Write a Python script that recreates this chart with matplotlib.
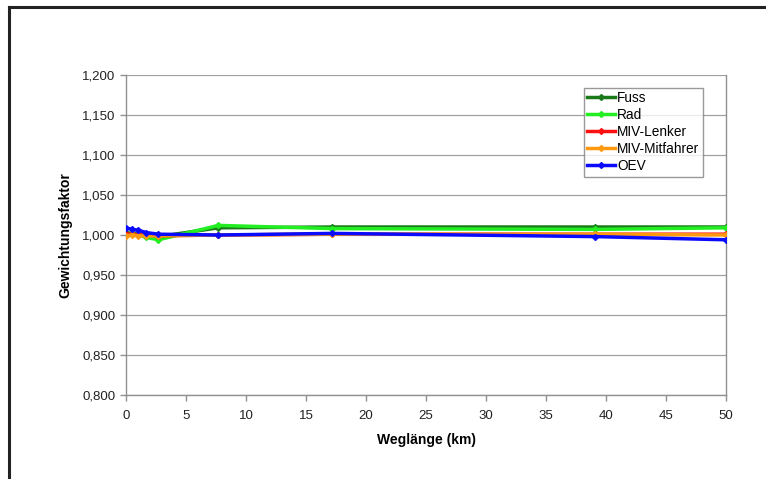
import matplotlib
matplotlib.use("Agg")
import matplotlib.pyplot as plt
from matplotlib.lines import Line2D
from matplotlib.ticker import FuncFormatter, MultipleLocator

plt.rcParams["font.family"] = ["Liberation Sans", "DejaVu Sans"]

# distance classes (km)
x_km = [0, 0.5, 1, 1.7, 2.7, 7.7, 17.2, 39.1, 50]

fuss = [1.003, 1.002, 1.001, 0.999, 0.998, 1.009, 1.010, 1.010, 1.010]
rad = [1.000, 1.001, 1.000, 0.997, 0.994, 1.012, 1.008, 1.007, 1.009]
miv_lenker = [1.001, 1.001, 1.000, 1.000, 0.999, 1.000, 1.001, 1.001, 1.001]
miv_mitfahrer = [0.999, 1.000, 0.999, 0.999, 0.999, 1.000, 1.001, 1.001, 1.000]
oev = [1.009, 1.007, 1.006, 1.003, 1.001, 1.000, 1.002, 0.998, 0.994]

series_names = ["Fuss", "Rad", "MIV-Lenker", "MIV-Mitfahrer", "OEV"]
series_values = [fuss, rad, miv_lenker, miv_mitfahrer, oev]
colors = ["#1a7a1a", "#22ee22", "#ff1010", "#ff9a10", "#0a0aff"]

fig = plt.figure(figsize=(7.66, 4.79), dpi=100)
ax = fig.add_axes([0.1645, 0.1754, 0.7835, 0.668])

for name, vals, col in zip(series_names, series_values, colors):
    ax.plot(x_km, vals, color=col, lw=2.5, marker="D", ms=3.0, label=name, zorder=3)

ax.set_xlim(0, 50)
ax.set_ylim(0.8, 1.2)
ax.xaxis.set_major_locator(MultipleLocator(5))
ax.yaxis.set_major_locator(MultipleLocator(0.05))
ax.yaxis.set_major_formatter(FuncFormatter(lambda v, _: f"{v:.3f}".replace(".", ",")))
ax.grid(axis="y", color="#a0a0a0", lw=0.9)
ax.set_axisbelow(True)
ax.spines["top"].set_visible(False)
for side in ["left", "bottom", "right"]:
    ax.spines[side].set_color("#909090")
    ax.spines[side].set_linewidth(1.0)
ax.tick_params(colors="#909090", labelcolor="#222222", labelsize=9.5, length=4, width=1.0)
ax.tick_params(axis="x", pad=7)

ax.set_xlabel("Weglänge (km)", fontsize=10, fontweight="bold", labelpad=8)
ax.set_ylabel("Gewichtungsfaktor", fontsize=10, fontweight="bold", labelpad=7)

leg = ax.legend(loc="upper left", bbox_to_anchor=(0.763, 0.96), fontsize=9.8,
                frameon=True, fancybox=False, borderpad=0.25, labelspacing=0.22,
                handlelength=2.0, handletextpad=0.2, borderaxespad=0)
leg.get_frame().set_edgecolor("#808080")
leg.get_frame().set_linewidth(1.0)

# outer document frame (left and top)
fig.add_artist(Line2D([0.0115, 0.0115], [0.0, 0.985], transform=fig.transFigure, color="#222222", lw=2.2))
fig.add_artist(Line2D([0.0115, 1.0], [0.985, 0.985], transform=fig.transFigure, color="#222222", lw=2.2))

fig.savefig("out.png", dpi=100)
